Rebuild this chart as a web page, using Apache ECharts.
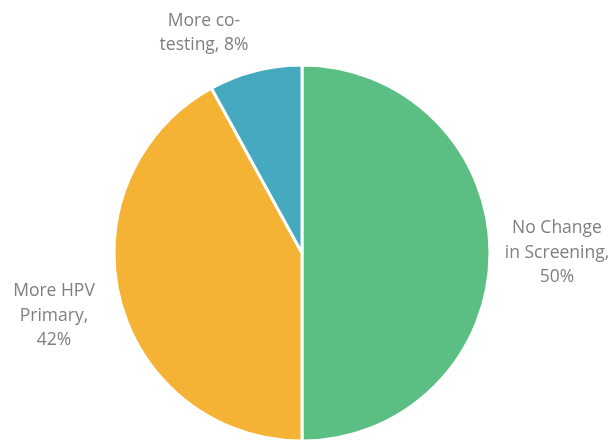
<!DOCTYPE html>
<html>
<head>
<meta charset="utf-8">
<script src="https://cdn.jsdelivr.net/npm/echarts@6/dist/echarts.min.js"></script>
<style>
  html, body { margin: 0; padding: 0; background: #fff; }
  #chart { width: 616px; height: 441px; }
</style>
</head>
<body>
<div id="chart"></div>
<script>
// Shares of screening change, clockwise from 12 o'clock
const categories = ['No Change\nin Screening', 'More HPV\nPrimary', 'More co-\ntesting'];
const shares = [50, 42, 8];
const colors = ['#5BBF84', '#F5B335', '#45A9C0'];
const labelText = [
  'No Change\nin Screening,\n50%',
  'More HPV\nPrimary,\n42%',
  'More co-\ntesting, 8%'
];
// Label anchor points (label centres)
const labelSpots = [[557, 253], [54, 316], [204, 33]];

const chart = echarts.init(document.getElementById('chart'), null, { renderer: 'canvas' });
chart.setOption({
  animation: false,
  series: [{
    type: 'pie',
    center: [302, 253],
    radius: [0, 188],
    startAngle: 90,
    clockwise: true,
    itemStyle: { borderColor: '#ffffff', borderWidth: 3 },
    label: {
      show: true,
      position: 'outside',
      alignTo: 'none',
      overflow: 'none',
      color: '#7F7F7F',
      fontFamily: '"Open Sans", sans-serif',
      fontSize: 17.5,
      lineHeight: 24.5,
      align: 'center',
      formatter: p => labelText[p.dataIndex]
    },
    labelLine: { show: false },
    labelLayout: p => ({
      x: labelSpots[p.dataIndex][0],
      y: labelSpots[p.dataIndex][1],
      align: 'center',
      verticalAlign: 'middle'
    }),
    data: categories.map((c, i) => ({
      name: c,
      value: shares[i],
      itemStyle: { color: colors[i] }
    }))
  }]
});
</script>
</body>
</html>
